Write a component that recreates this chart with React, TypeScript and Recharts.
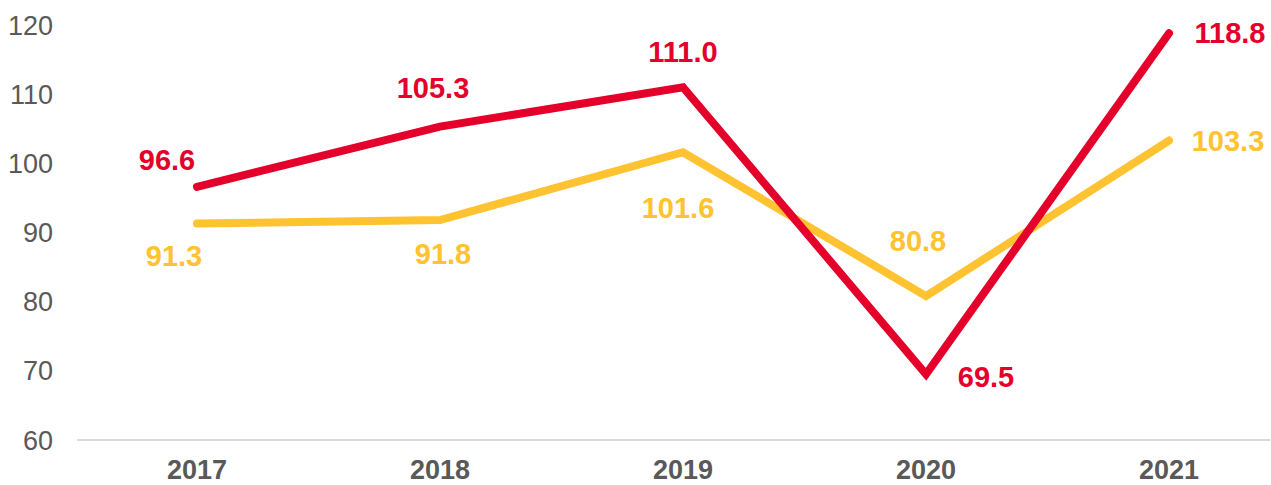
import React from "react";
import { LineChart, Line, XAxis, YAxis } from "recharts";

const years = ["2017", "2018", "2019", "2020", "2021"];
const redSeries = [96.6, 105.3, 111.0, 69.5, 118.8];
const yellowSeries = [91.3, 91.8, 101.6, 80.8, 103.3];
const yTicks = [60, 70, 80, 90, 100, 110, 120];

// label offsets (dx, dy) relative to the point
const redLabelOffsets = [[-30, -27], [-7, -39], [0, -35], [60, 3], [61, 0]];
const yellowLabelOffsets = [[-23, 32], [3, 34], [-5, 56], [-8, -55], [59, 0]];

const RED = "#E4002B";
const YELLOW = "#FFC230";

const data = years.map((y, i) => ({ year: y, red: redSeries[i], yellow: yellowSeries[i] }));

const makeLabel = (offsets: number[][], color: string) => (props: any) => {
  const { x, y, value, index } = props;
  const [dx, dy] = offsets[index] || [0, 0];
  return (
    <text
      x={x + dx}
      y={y + dy}
      textAnchor="middle"
      dominantBaseline="central"
      fill={color}
      fontSize={29}
      fontWeight="bold"
      fontFamily="'Liberation Sans', Arial, sans-serif"
    >
      {Number(value).toFixed(1)}
    </text>
  );
};

export default function App() {
  return (
    <div style={{ position: "absolute", left: 0, top: 0, width: 1271, height: 485, background: "#fff" }}>
      <LineChart
        width={1271}
        height={485}
        data={data}
        margin={{ top: 25, right: 1, left: 0, bottom: 0 }}
      >
        <XAxis
          dataKey="year"
          height={45}
          padding={{ left: 120, right: 101 }}
          tickLine={false}
          tickSize={0}
          tickMargin={20}
          axisLine={{ stroke: "#D9D9D9", strokeWidth: 2 }}
          tick={{ fill: "#595959", fontSize: 27, fontWeight: "bold", fontFamily: "'Liberation Sans', Arial, sans-serif" }}
          interval={0}
        />
        <YAxis
          width={77}
          domain={[60, 120]}
          ticks={yTicks}
          axisLine={false}
          tickLine={false}
          tickSize={0}
          tickMargin={24}
          tick={{ fill: "#595959", fontSize: 27, fontFamily: "'Liberation Sans', Arial, sans-serif" }}
        />
        <Line
          dataKey="yellow"
          stroke={YELLOW}
          strokeWidth={8}
          strokeLinecap="round"
          strokeLinejoin="miter"
          dot={false}
          activeDot={false}
          isAnimationActive={false}
          label={makeLabel(yellowLabelOffsets, YELLOW)}
        />
        <Line
          dataKey="red"
          stroke={RED}
          strokeWidth={8}
          strokeLinecap="round"
          strokeLinejoin="miter"
          dot={false}
          activeDot={false}
          isAnimationActive={false}
          label={makeLabel(redLabelOffsets, RED)}
        />
      </LineChart>
    </div>
  );
}
